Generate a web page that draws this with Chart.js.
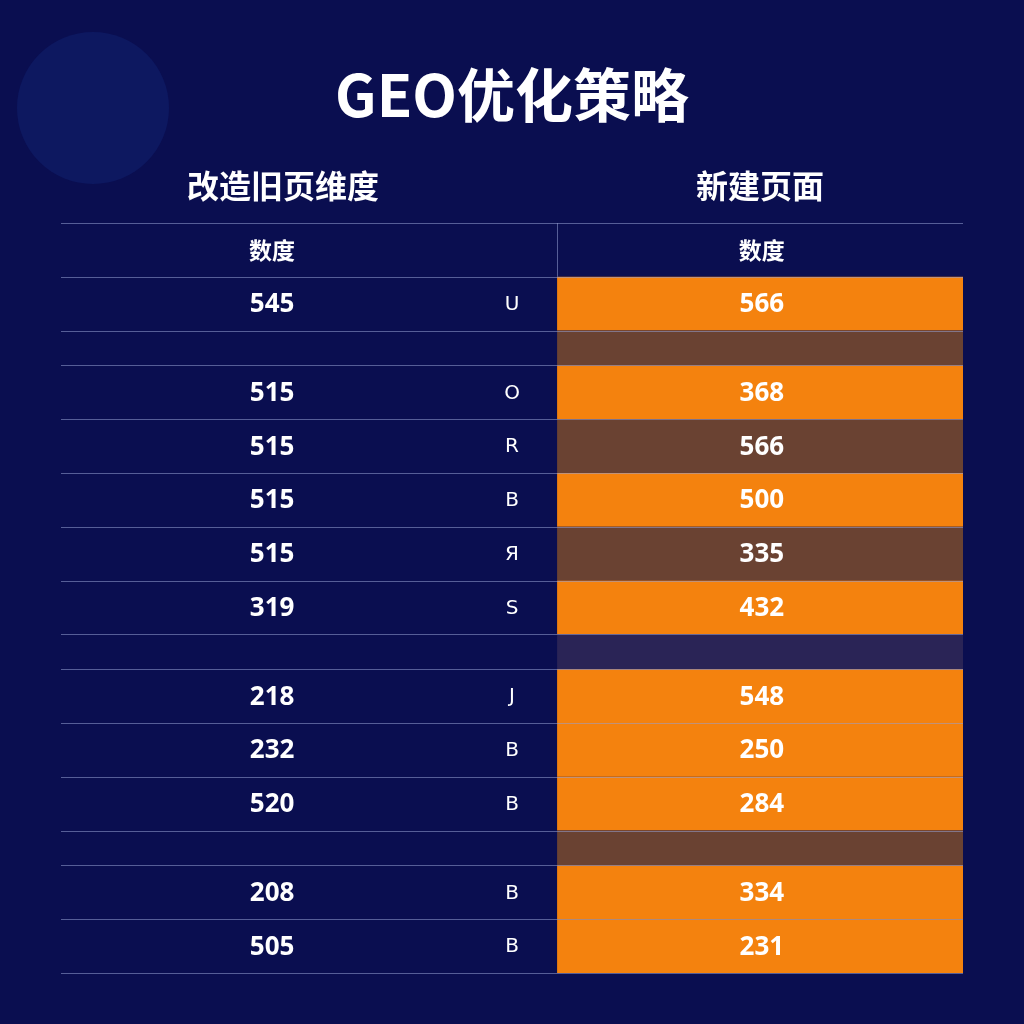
<!DOCTYPE html>
<html><head><meta charset="utf-8">
<script src="https://cdn.jsdelivr.net/npm/chart.js@4"></script>
<style>html,body{margin:0;padding:0;background:#0a0e50;}#w{width:1024px;height:1024px;}</style>
</head><body><div id="w"><canvas id="c"></canvas></div>
<script>
const title = "GEO优化策略";
const groupHeaders = ["改造旧页维度", "新建页面"];
const colHeaders = ["数度", "数度"];
const leftVals  = ["545", "", "515", "515", "515", "515", "319", "", "218", "232", "520", "", "208", "505"];
const letters   = ["U", "", "O", "R", "B", "Я", "S", "", "J", "B", "B", "", "B", "B"];
const rightVals = ["566", "", "368", "566", "500", "335", "432", "", "548", "250", "284", "", "334", "231"];
const rowFill   = ["o", "b", "o", "b", "o", "b", "o", "p", "o", "o", "o", "b", "o", "o"];
const rowSize   = [1, 0.65, 1, 1, 1, 1, 1, 0.65, 1, 1, 1, 0.65, 1, 1];

const fills = {o:"#f4820e", b:"#6a4232", p:"#2a2456"};
const bounds = [0, 1];
rowSize.forEach(s => bounds.push(bounds[bounds.length-1] + s));
const total = bounds[bounds.length-1];
const X = {left:23.4, letter:50, split:55, right:77.7};

const pts = [];
leftVals.forEach((v,i)=>pts.push({x:X.left, y:(bounds[i+1]+bounds[i+2])/2}));

const tablePlugin = {
  id:'table',
  beforeDatasetsDraw(chart){
    const {ctx, scales:{x,y}, chartArea:a} = chart;
    ctx.save();
    // faint decoration
    ctx.fillStyle = "#0d1860";
    ctx.beginPath(); ctx.arc(93,108,76,0,Math.PI*2); ctx.fill();
    const xs = x.getPixelForValue(X.split);
    rowFill.forEach((f,i)=>{
      const y0 = y.getPixelForValue(bounds[i+1]), y1 = y.getPixelForValue(bounds[i+2]);
      ctx.fillStyle = fills[f];
      ctx.fillRect(xs, y0, a.right - xs, y1 - y0);
    });
    ctx.strokeStyle = "rgba(150,160,210,0.55)"; ctx.lineWidth = 1;
    bounds.forEach(b=>{
      const yy = Math.round(y.getPixelForValue(b))+0.5;
      ctx.beginPath(); ctx.moveTo(a.left,yy); ctx.lineTo(a.right,yy); ctx.stroke();
    });
    ctx.beginPath(); ctx.moveTo(Math.round(xs)+0.5, y.getPixelForValue(0)); ctx.lineTo(Math.round(xs)+0.5, y.getPixelForValue(1)); ctx.stroke();
    ctx.fillStyle = "#fff"; ctx.textAlign = "center"; ctx.textBaseline = "middle";
    ctx.font = "bold 58px 'Noto Sans CJK SC', 'Noto Sans'";
    ctx.fillText(title, 512, 95);
    ctx.font = "bold 32px 'Noto Sans CJK SC'";
    ctx.fillText(groupHeaders[0], 283, 186);
    ctx.fillText(groupHeaders[1], 760, 186);
    ctx.font = "bold 23px 'Noto Sans CJK SC'";
    const hy = y.getPixelForValue(0.5);
    ctx.fillText(colHeaders[0], x.getPixelForValue(X.left), hy);
    ctx.fillText(colHeaders[1], x.getPixelForValue(X.right), hy);
    leftVals.forEach((v,i)=>{
      const yy = y.getPixelForValue((bounds[i+1]+bounds[i+2])/2) + 1;
      ctx.font = "bold 26px 'Noto Sans', sans-serif";
      ctx.fillText(v, x.getPixelForValue(X.left), yy);
      ctx.fillText(rightVals[i], x.getPixelForValue(X.right), yy);
      ctx.font = "20px 'DejaVu Sans', sans-serif";
      ctx.fillText(letters[i], x.getPixelForValue(X.letter), yy);
    });
    ctx.restore();
  }
};

new Chart(document.getElementById('c'), {
  type:'scatter',
  data:{datasets:[{data:pts, pointRadius:0}]},
  options:{
    responsive:true, maintainAspectRatio:false, animation:false,
    layout:{padding:{left:61, right:61, top:223, bottom:51}},
    plugins:{legend:{display:false}, tooltip:{enabled:false}},
    scales:{
      x:{type:'linear', min:0, max:100, display:false},
      y:{type:'linear', min:0, max:total, reverse:true, display:false}
    }
  },
  plugins:[tablePlugin]
});
</script></body></html>
